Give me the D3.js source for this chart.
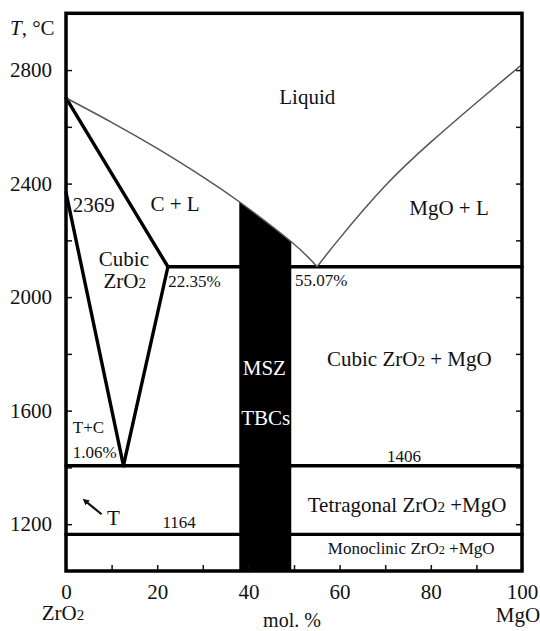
<!DOCTYPE html>
<html>
<head>
<meta charset="utf-8">
<script src="https://cdn.jsdelivr.net/npm/d3@7"></script>
</head>
<body style="margin:0;background:#fff">
<svg id="chart" width="540" height="631"></svg>
<script>
// composition in mol.% MgO, temperature in degC
const liquidusLeft = [[0, 2702], [10, 2616], [20, 2524], [30, 2424], [38, 2336], [49.4, 2195], [55.07, 2107]]
const liquidusRight = [[55.07, 2107], [60, 2207], [70, 2392], [80, 2546], [90, 2685], [100, 2820]]

// straight phase boundaries
const boundaries = [
    [[0, 2702], [22.35, 2107]],
    [[22.35, 2107], [12.6, 1406]],
    [[0, 2369], [12.6, 1406]],
    [[22.35, 2107], [100, 2107]],
    [[0, 1406], [100, 1406]],
    [[0, 1164], [100, 1164]]
]

const mszRange = [38, 49.4]
const xDomain = [0, 100]
const tDomain = [1035, 3000]
const xTicks = [0, 10, 20, 30, 40, 50, 60, 70, 80, 90, 100]
const xLabels = [0, 20, 40, 60, 80, 100]
const tTicks = [1200, 1400, 1600, 1800, 2000, 2200, 2400, 2600, 2800]
const tLabels = [1200, 1600, 2000, 2400, 2800]

const serif = "'Liberation Serif'"

let svg = d3.select("#chart")

let x = d3.scaleLinear().domain(xDomain).range([66, 522])
let y = d3.scaleLinear().domain(tDomain).range([571, 13.3])

let line = d3.line().x(d => x(d[0])).y(d => y(d[1]))
let curve = d3.line().x(d => x(d[0])).y(d => y(d[1])).curve(d3.curveNatural)

// thick phase boundaries
svg.append("g").selectAll("path")
    .data(boundaries)
    .enter().append("path")
        .attr("d", line)
        .attr("fill", "none")
        .attr("stroke", "#000")
        .attr("stroke-width", 3.4)
        .attr("stroke-linecap", "round")

// MSZ TBCs band, under the liquidus
svg.append("defs").append("clipPath")
    .attr("id", "msz-clip")
  .append("rect")
    .attr("x", x(mszRange[0]))
    .attr("y", 0)
    .attr("width", x(mszRange[1]) - x(mszRange[0]))
    .attr("height", y(tDomain[0]))

svg.append("path")
    .datum(liquidusLeft)
    .attr("d", d3.area().x(d => x(d[0])).y0(y(tDomain[0])).y1(d => y(d[1])).curve(d3.curveNatural))
    .attr("fill", "#000")
    .attr("clip-path", "url(#msz-clip)")

// liquidus
svg.append("g").selectAll("path")
    .data([liquidusLeft, liquidusRight])
    .enter().append("path")
        .attr("d", curve)
        .attr("fill", "none")
        .attr("stroke", "#555")
        .attr("stroke-width", 1.5)

// axes, ticks pointing inwards
svg.append("g")
    .attr("transform", "translate(" + x(0) + ",0)")
    .call(d3.axisLeft(y).tickValues(tTicks).tickSize(-6).tickPadding(14)
        .tickFormat(d => tLabels.includes(d) ? d : ""))

svg.append("g")
    .attr("transform", "translate(" + x(100) + ",0)")
    .call(d3.axisRight(y).tickValues(tTicks).tickSize(-6).tickFormat(""))

svg.append("g")
    .attr("transform", "translate(0," + y(tDomain[0]) + ")")
    .call(d3.axisBottom(x).tickValues(xTicks).tickSize(-6).tickPadding(13)
        .tickFormat(d => xLabels.includes(d) ? d : ""))

svg.selectAll(".domain").remove()
svg.selectAll(".tick line").attr("stroke", "#111").attr("stroke-width", 1.5)
svg.selectAll(".tick text")
    .style("font-family", serif)
    .attr("font-size", 21)
    .attr("fill", "#111")

// frame
svg.append("rect")
    .attr("x", x(0))
    .attr("y", y(tDomain[1]))
    .attr("width", x(100) - x(0))
    .attr("height", y(tDomain[0]) - y(tDomain[1]))
    .attr("fill", "none")
    .attr("stroke", "#000")
    .attr("stroke-width", 3.5)

// region annotations, placed in data coordinates
let notes = [
    { text: "Liquid", x: 52.9, t: 2680, size: 21, anchor: "middle" },
    { text: "C + L", x: 23.9, t: 2303, size: 21, anchor: "middle" },
    { text: "2369", x: 1.5, t: 2300, size: 21, anchor: "start" },
    { text: "Cubic", x: 12.7, t: 2109, size: 21, anchor: "middle" },
    { text: "ZrO2", x: 12.9, t: 2032, size: 21, anchor: "middle" },
    { text: "22.35%", x: 22.4, t: 2035, size: 17, anchor: "start" },
    { text: "55.07%", x: 50.2, t: 2039, size: 17, anchor: "start" },
    { text: "MgO + L", x: 84, t: 2289, size: 21, anchor: "middle" },
    { text: "Cubic ZrO2 + MgO", x: 75.3, t: 1757, size: 21, anchor: "middle" },
    { text: "MSZ", x: 43.5, t: 1725, size: 21, anchor: "middle", color: "#fff" },
    { text: "TBCs", x: 43.8, t: 1549, size: 21, anchor: "middle", color: "#fff" },
    { text: "1406", x: 74.1, t: 1419, size: 17, anchor: "middle" },
    { text: "Tetragonal ZrO2 +MgO", x: 74.8, t: 1242, size: 21, anchor: "middle" },
    { text: "Monoclinic ZrO2 +MgO", x: 75.7, t: 1094, size: 17, anchor: "middle" },
    { text: "T+C", x: 1.5, t: 1521, size: 17, anchor: "start" },
    { text: "1.06%", x: 1.5, t: 1433, size: 17, anchor: "start" },
    { text: "T", x: 9, t: 1197, size: 21, anchor: "start" },
    { text: "1164", x: 24.8, t: 1186, size: 17, anchor: "middle" }
]

function richText(sel, str) {
    str.split(/(ZrO2)/).filter(s => s.length).forEach(part => {
        if (part === "ZrO2") {
            sel.append("tspan").text("ZrO")
            sel.append("tspan").attr("font-size", 0.72 * +sel.attr("font-size")).text("2")
        } else {
            sel.append("tspan").text(part.replace(/ /g, "\u00a0"))
        }
    })
}

function label(px, py, size, anchor) {
    return svg.append("text")
        .attr("x", px)
        .attr("y", py)
        .attr("text-anchor", anchor)
        .attr("font-size", size)
        .attr("fill", "#111")
        .style("font-family", serif)
}

notes.forEach(d => {
    label(x(d.x), y(d.t), d.size, d.anchor)
        .attr("fill", d.color || "#111")
        .call(t => richText(t, d.text))
})

// arrow pointing at the T field
svg.append("defs").append("marker")
    .attr("id", "head")
    .attr("viewBox", "0 0 10 10")
    .attr("refX", 5)
    .attr("refY", 5)
    .attr("markerWidth", 3)
    .attr("markerHeight", 3)
    .attr("orient", "auto")
  .append("path")
    .attr("d", "M0,0 L10,5 L0,10 z")
    .attr("fill", "#111")

svg.append("line")
    .attr("x1", x(7.8)).attr("y1", y(1235))
    .attr("x2", x(4.2)).attr("y2", y(1282))
    .attr("stroke", "#111")
    .attr("stroke-width", 2.2)
    .attr("marker-end", "url(#head)")

// axis titles
label(10, 35, 21, "start").call(t => {
    t.append("tspan").attr("font-style", "italic").text("T")
    t.append("tspan").text(",\u00a0°C")
})

label(x(0) - 3, 620, 21, "middle").call(t => richText(t, "ZrO2"))
label(x(100) - 4, 622, 21, "middle").text("MgO")
label(292, 627, 20, "middle").text("mol. %")
</script>
</body>
</html>
